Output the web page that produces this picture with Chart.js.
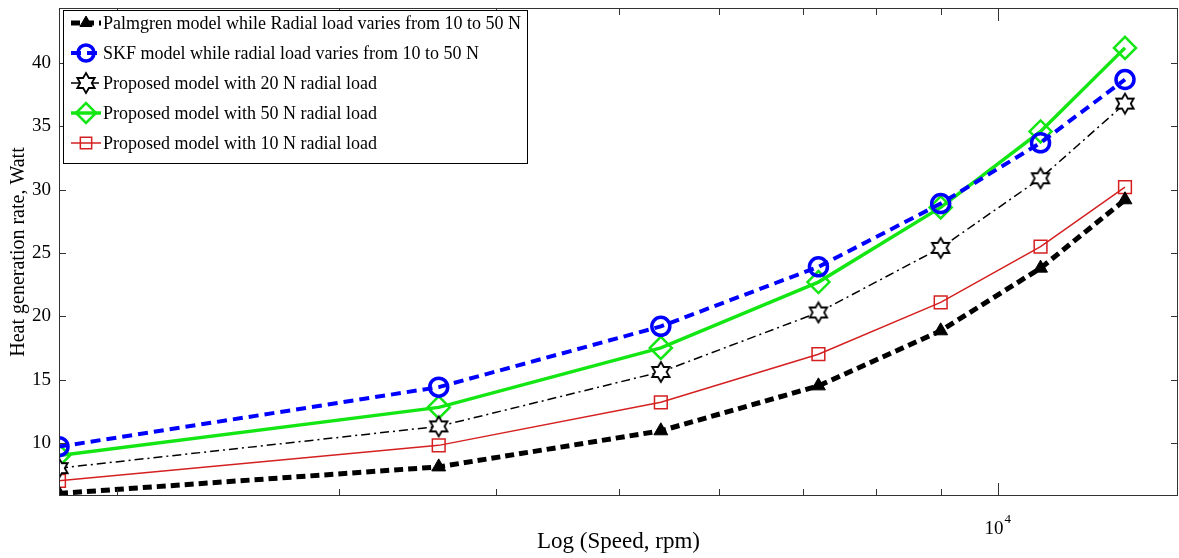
<!DOCTYPE html>
<html>
<head>
<meta charset="utf-8">
<script src="https://cdn.jsdelivr.net/npm/chart.js@4.4.1/dist/chart.umd.min.js"></script>
<style>
  body { margin: 0; background: #fff; }
  #wrap { width: 1179px; height: 558px; }
</style>
</head>
<body>
<div id="wrap"><canvas id="heatChart" width="1179" height="558"></canvas></div>
<script>
// speeds in rpm (log axis)
const speeds = [1800, 3600, 5400, 7200, 9000, 10800, 12600];

// heat generation rate, Watt
const palmgren = [6.0, 8.1, 10.95, 14.5, 18.85, 23.8, 29.2];
const skf = [9.7, 14.4, 19.2, 23.9, 28.9, 33.7, 38.7];
const proposed20 = [8.0, 11.3, 15.6, 20.3, 25.4, 30.9, 36.8];
const proposed50 = [9.0, 12.8, 17.5, 22.7, 28.6, 34.6, 41.2];
const proposed10 = [7.0, 9.8, 13.2, 17.0, 21.1, 25.5, 30.2];

const seriesNames = [
  'Palmgren model while Radial load varies from 10 to 50 N',
  'SKF model while radial load varies from 10 to 50 N',
  'Proposed model with 20 N radial load',
  'Proposed model with 50 N radial load',
  'Proposed model with 10 N radial load'
];

const yTicks = [10, 15, 20, 25, 30, 35, 40];
const xMinorTicks = [2000, 3000, 4000, 5000, 6000, 7000, 8000, 9000];
const xMajorTicks = [10000];

const FONT = '"Liberation Serif", "Times New Roman", serif';

// hexagram marker (matlab 'h')
function makeHexagram(R) {
  const c = document.createElement('canvas');
  const s = Math.ceil(R * 2 + 4);
  c.width = s; c.height = s;
  const g = c.getContext('2d');
  const r = R / Math.sqrt(3);
  g.beginPath();
  for (let i = 0; i < 12; i++) {
    const a = -Math.PI / 2 + i * Math.PI / 6;
    const rad = i % 2 === 0 ? R : r;
    const px = s / 2 + rad * Math.cos(a), py = s / 2 + rad * Math.sin(a);
    if (i === 0) g.moveTo(px, py); else g.lineTo(px, py);
  }
  g.closePath();
  g.fillStyle = '#fff';
  g.fill();
  g.lineWidth = 1.8;
  g.strokeStyle = '#000';
  g.stroke();
  return c;
}
const hexagram = makeHexagram(10);

function pts(arr) {
  return speeds.map((s, i) => ({ x: s, y: arr[i] }));
}

const datasets = [
  {
    label: seriesNames[0], data: pts(palmgren),
    borderColor: '#000', borderWidth: 5, borderDash: [9, 5],
    pointStyle: 'triangle', pointRadius: 8, pointBorderWidth: 1,
    pointBackgroundColor: '#000', pointBorderColor: '#000'
  },
  {
    label: seriesNames[1], data: pts(skf),
    borderColor: '#0000ff', borderWidth: 4, borderDash: [10, 6],
    pointStyle: 'circle', pointRadius: 9, pointBorderWidth: 3.5,
    pointBackgroundColor: 'rgba(255,255,255,0)', pointBorderColor: '#0000ff'
  },
  {
    label: seriesNames[2], data: pts(proposed20),
    borderColor: '#000', borderWidth: 1.5, borderDash: [9, 4, 2, 4],
    pointStyle: hexagram, pointRadius: 10,
    pointBackgroundColor: '#fff', pointBorderColor: '#000'
  },
  {
    label: seriesNames[3], data: pts(proposed50),
    borderColor: '#14e614', borderWidth: 3.5, borderDash: [],
    pointStyle: 'rectRot', pointRadius: 11, pointBorderWidth: 2.5,
    pointBackgroundColor: 'rgba(255,255,255,0)', pointBorderColor: '#14e614'
  },
  {
    label: seriesNames[4], data: pts(proposed10),
    borderColor: '#d42020', borderWidth: 1.5, borderDash: [],
    pointStyle: 'rect', pointRadius: 9, pointBorderWidth: 1.5,
    pointBackgroundColor: 'rgba(255,255,255,0)', pointBorderColor: '#d42020'
  }
];

// box frame, inward ticks, superscript label and the legend box
const matlabAxes = {
  id: 'matlabAxes',
  afterDraw(chart) {
    const ctx = chart.ctx;
    const a = chart.chartArea;
    const xs = chart.scales.x, ys = chart.scales.y;
    ctx.save();
    ctx.strokeStyle = '#333';
    ctx.lineWidth = 1;
    ctx.strokeRect(a.left + 0.5, a.top + 0.5, a.right - a.left - 1, a.bottom - a.top - 1);

    ctx.beginPath();
    yTicks.forEach(v => {
      const y = Math.round(ys.getPixelForValue(v)) + 0.5;
      ctx.moveTo(a.left, y); ctx.lineTo(a.left + 7, y);
      ctx.moveTo(a.right, y); ctx.lineTo(a.right - 7, y);
    });
    xMinorTicks.forEach(v => {
      const x = Math.round(xs.getPixelForValue(v)) + 0.5;
      ctx.moveTo(x, a.bottom); ctx.lineTo(x, a.bottom - 7);
      ctx.moveTo(x, a.top); ctx.lineTo(x, a.top + 7);
    });
    xMajorTicks.forEach(v => {
      const x = Math.round(xs.getPixelForValue(v)) + 0.5;
      ctx.moveTo(x, a.bottom); ctx.lineTo(x, a.bottom - 13);
      ctx.moveTo(x, a.top); ctx.lineTo(x, a.top + 13);
    });
    ctx.stroke();

    // 10^4 label
    ctx.fillStyle = '#000';
    ctx.textBaseline = 'alphabetic';
    xMajorTicks.forEach(v => {
      const x = xs.getPixelForValue(v);
      ctx.font = '19px ' + FONT;
      ctx.textAlign = 'right';
      ctx.fillText('10', x + 5, a.bottom + 38);
      ctx.font = '13px ' + FONT;
      ctx.textAlign = 'left';
      ctx.fillText(String(Math.log10(v)), x + 6, a.bottom + 27);
    });

    // legend
    const lx = 63, ly = 10, lw = 464, lh = 153, rowH = 30;
    ctx.fillStyle = '#fff';
    ctx.fillRect(lx, ly, lw, lh);
    ctx.strokeStyle = '#000';
    ctx.lineWidth = 1;
    ctx.strokeRect(lx + 0.5, ly + 0.5, lw, lh);
    ctx.font = '18px ' + FONT;
    ctx.textAlign = 'left';
    ctx.textBaseline = 'middle';
    chart.data.datasets.forEach((ds, i) => {
      const cy = ly + 13 + i * rowH;
      ctx.save();
      ctx.strokeStyle = ds.borderColor;
      ctx.lineWidth = ds.borderWidth;
      ctx.setLineDash(ds.borderDash || []);
      ctx.beginPath();
      ctx.moveTo(lx + 8, cy); ctx.lineTo(lx + 38, cy);
      ctx.stroke();
      ctx.setLineDash([]);
      ctx.strokeStyle = ds.pointBorderColor;
      ctx.fillStyle = ds.pointBackgroundColor;
      ctx.lineWidth = ds.pointBorderWidth || 1;
      Chart.helpers.drawPoint(ctx, {
        pointStyle: ds.pointStyle, radius: ds.pointRadius - 1,
        borderWidth: ds.pointBorderWidth || 1, rotation: 0
      }, lx + 23, cy);
      ctx.restore();
      ctx.fillStyle = '#000';
      ctx.fillText(ds.label, lx + 40, cy + 1);
    });
    ctx.restore();
  }
};

const ctx = document.getElementById('heatChart').getContext('2d');
const heatChart = new Chart(ctx, {
  type: 'line',
  data: { datasets: datasets },
  options: {
    responsive: false,
    animation: false,
    devicePixelRatio: 1,
    layout: { autoPadding: false, padding: { top: 8, right: 1, left: 0, bottom: 0 } },
    plugins: {
      legend: { display: false },
      tooltip: { enabled: false }
    },
    elements: { line: { tension: 0 } },
    scales: {
      x: {
        type: 'logarithmic',
        min: 1800,
        max: 13880,
        afterBuildTicks: axis => { axis.ticks = xMinorTicks.concat(xMajorTicks).map(v => ({ value: v })); },
        ticks: { display: false },
        grid: { display: false, drawTicks: false },
        border: { display: false },
        title: {
          display: true, text: 'Log (Speed, rpm)', color: '#000',
          font: { family: FONT, size: 23 }, padding: { top: 0, bottom: 2 }
        },
        afterFit: axis => { axis.height = 62; axis.paddingLeft = 0; axis.paddingRight = 0; }
      },
      y: {
        min: 5.8,
        max: 44.35,
        afterBuildTicks: axis => { axis.ticks = yTicks.map(v => ({ value: v })); },
        ticks: {
          color: '#000', padding: 8,
          font: { family: FONT, size: 19 }
        },
        grid: { display: false, drawTicks: false },
        border: { display: false },
        title: {
          display: true, text: 'Heat generation rate, Watt', color: '#000',
          font: { family: FONT, size: 20 }, padding: { top: 7, bottom: 2 }
        },
        afterFit: axis => { axis.width = 59; axis.paddingTop = 0; axis.paddingBottom = 0; }
      }
    }
  },
  plugins: [matlabAxes]
});
</script>
</body>
</html>
